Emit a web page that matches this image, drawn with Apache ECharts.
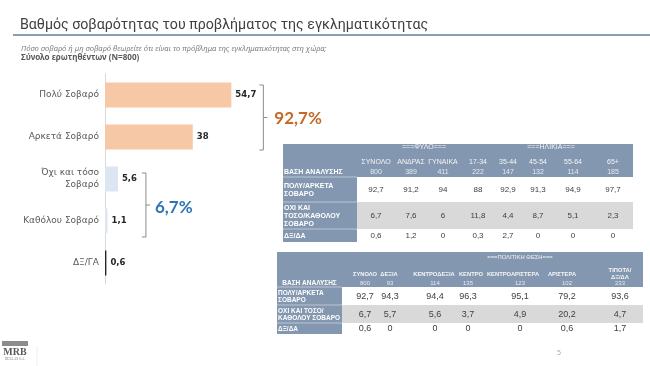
<!DOCTYPE html>
<html>
<head>
<meta charset="utf-8">
<script src="https://cdn.jsdelivr.net/npm/echarts@6/dist/echarts.min.js"></script>
<style>
html,body{margin:0;padding:0;background:#fff;}
#c{width:650px;height:366px;}
</style>
</head>
<body>
<div id="c"></div>
<script>
// ---------- DATA ----------
const titleText = 'Βαθμός σοβαρότητας του προβλήματος της εγκληματικότητας';
const questionText = 'Πόσο σοβαρό ή μη σοβαρό θεωρείτε ότι είναι το πρόβλημα της εγκληματικότητας στη χώρα;';
const baseText = 'Σύνολο ερωτηθέντων (N=800)';

const categories = ['Πολύ Σοβαρό', 'Αρκετά Σοβαρό', 'Όχι και τόσο\nΣοβαρό', 'Καθόλου Σοβαρό', 'ΔΞ/ΓΑ'];
const values = [54.7, 38, 5.6, 1.1, 0.6];
const groupTotals = ['92,7%', '6,7%'];

const t1Groups = ['===ΦΥΛΟ===', '===ΗΛΙΚΙΑ==='];
const t1Columns = ['ΣΥΝΟΛΟ', 'ΑΝΔΡΑΣ', 'ΓΥΝΑΙΚΑ', '17-34', '35-44', '45-54', '55-64', '65+'];
const t1Bases = [800, 389, 411, 222, 147, 132, 114, 185];
const t1RowLabels = ['ΠΟΛΥ/ΑΡΚΕΤΑ\nΣΟΒΑΡΟ', 'ΟΧΙ ΚΑΙ\nΤΟΣΟ/ΚΑΘΟΛΟΥ\nΣΟΒΑΡΟ', 'ΔΞ/ΔΑ'];
const t1Serious = [92.7, 91.2, 94, 88, 92.9, 91.3, 94.9, 97.7];
const t1NotSerious = [6.7, 7.6, 6, 11.8, 4.4, 8.7, 5.1, 2.3];
const t1DkNa = [0.6, 1.2, 0, 0.3, 2.7, 0, 0, 0];

const t2Groups = ['===ΠΟΛΙΤΙΚΗ ΘΕΣΗ==='];
const t2Columns = ['ΣΥΝΟΛΟ', 'ΔΕΞΙΑ', 'ΚΕΝΤΡΟΔΕΞΙΑ', 'ΚΕΝΤΡΟ', 'ΚΕΝΤΡΟΑΡΙΣΤΕΡΑ', 'ΑΡΙΣΤΕΡΑ', 'ΤΙΠΟΤΑ/\nΔΞ/ΔΑ'];
const t2Bases = [800, 93, 114, 135, 123, 102, 233];
const t2RowLabels = ['ΠΟΛΥ/ΑΡΚΕΤΑ\nΣΟΒΑΡΟ', 'ΟΧΙ ΚΑΙ ΤΟΣΟ/\nΚΑΘΟΛΟΥ ΣΟΒΑΡΟ', 'ΔΞ/ΔΑ'];
const t2Serious = [92.7, 94.3, 94.4, 96.3, 95.1, 79.2, 93.6];
const t2NotSerious = [6.7, 5.7, 5.6, 3.7, 4.9, 20.2, 4.7];
const t2DkNa = [0.6, 0, 0, 0, 0, 0.6, 1.7];

// ---------- STYLE / LAYOUT ----------
const fmt = v => String(v).replace('.', ',');
const barColors = ['#F7C8A6', '#F7C8A6', '#DCE6F2', '#DCE6F2', '#262626'];
const HEAD = '#8497B0';
const GRAYROW = '#D9D9D9';
const SANS = '"Liberation Sans", Arial, sans-serif';

const T1L = {x0: 283, x1: 633, lw: 74, top: 144, rows: [177, 202, 229, 242],
  colX: [376, 411, 443, 478, 508, 538, 573, 613], headX: [376, 411, 443, 478, 508, 538, 573, 613],
  groupX: [424, 551], groupY: 147.5, colY: 162, baseY: 172,
  headFont: '7px ' + SANS, colBold: false, baseFont: '7px ' + SANS, valFont: '8px ' + SANS,
  labelFont: 'bold 7px ' + SANS, labelLH: 8, baseLabelCenter: false};
const T2L = {x0: 277, x1: 643, lw: 65, top: 252, rows: [287, 305, 323, 334],
  colX: [365, 390, 435, 468, 520, 567, 620], headX: [365, 389, 434, 471, 513, 562, 620],
  groupX: [520], groupY: 257, colY: 274, baseY: 283.5,
  headFont: '5.8px ' + SANS, colBold: true, baseFont: '6px ' + SANS, valFont: '9px ' + SANS,
  labelFont: 'bold 6.5px ' + SANS, labelLH: 7.5, baseLabelCenter: true};

function buildTable(L, groups, cols, bases, rowLabels, rows) {
  const g = [];
  const z = 10;
  g.push({type: 'rect', z, shape: {x: L.x0, y: L.top, width: L.x1 - L.x0, height: L.rows[0] - L.top}, style: {fill: HEAD}});
  g.push({type: 'rect', z, shape: {x: L.x0, y: L.rows[0], width: L.lw, height: L.rows[3] - L.rows[0]}, style: {fill: HEAD}});
  g.push({type: 'rect', z, shape: {x: L.x0 + L.lw, y: L.rows[1], width: L.x1 - L.x0 - L.lw, height: L.rows[2] - L.rows[1]}, style: {fill: GRAYROW}});
  for (let i = 0; i < 3; i++) {
    g.push({type: 'line', z: z + 1, shape: {x1: L.x0, y1: L.rows[i], x2: L.x0 + L.lw, y2: L.rows[i]}, style: {stroke: 'rgba(255,255,255,0.45)', lineWidth: 1}});
  }
  groups.forEach((t, i) => g.push({type: 'text', z: z + 2, style: {text: t, x: L.groupX[i], y: L.groupY, align: 'center', verticalAlign: 'middle', font: L.headFont, fill: '#F2F2F2'}}));
  cols.forEach((t, i) => g.push({type: 'text', z: z + 2, style: {text: t, x: L.headX[i], y: L.colY, align: 'center', verticalAlign: 'middle', font: (L.colBold ? 'bold ' : '') + L.headFont, fill: '#F5F5F5', lineHeight: 7}}));
  bases.forEach((t, i) => g.push({type: 'text', z: z + 2, style: {text: String(t), x: L.colX[i], y: L.baseY, align: 'center', verticalAlign: 'middle', font: L.baseFont, fill: '#E6EAF0'}}));
  g.push({type: 'text', z: z + 2, style: {text: 'ΒΑΣΗ ΑΝΑΛΥΣΗΣ', x: L.baseLabelCenter ? L.x0 + L.lw / 2 : L.x0 + 1, y: L.baseY, align: L.baseLabelCenter ? 'center' : 'left', verticalAlign: 'middle', font: L.labelFont, fill: '#FFFFFF'}});
  rowLabels.forEach((t, r) => {
    const cy = (L.rows[r] + L.rows[r + 1]) / 2 + 0.5;
    g.push({type: 'text', z: z + 2, style: {text: t, x: L.x0 + 1, y: cy, align: 'left', verticalAlign: 'middle', font: L.labelFont, fill: '#FFFFFF', lineHeight: L.labelLH}});
    rows[r].forEach((v, i) => g.push({type: 'text', z: z + 2, style: {text: fmt(v), x: L.colX[i], y: cy, align: 'center', verticalAlign: 'middle', font: L.valFont, fill: '#404040'}}));
  });
  return g;
}

const chart = echarts.init(document.getElementById('c'), null, {renderer: 'canvas'});
chart.setOption({
  animation: false,
  backgroundColor: '#ffffff',
  grid: {left: 105, width: 138.6, top: 74, height: 210},
  xAxis: {type: 'value', min: 0, max: 60, show: false},
  yAxis: {
    type: 'category', data: categories, inverse: true,
    axisLine: {show: true, lineStyle: {color: '#D9D9D9', width: 1}},
    axisTick: {show: false},
    axisLabel: {fontSize: 9, color: '#595959', fontFamily: '"DejaVu Sans", sans-serif', margin: 6, lineHeight: 12, align: 'right'}
  },
  series: [{
    type: 'bar', barWidth: 25,
    data: values.map((v, i) => ({value: v, itemStyle: {color: barColors[i]}})),
    label: {show: true, position: 'right', distance: 4, formatter: p => fmt(p.value),
      fontSize: 8.5, fontWeight: 'bold', color: '#262626', fontFamily: '"DejaVu Sans", sans-serif'}
  }]
});

// positions of brackets derived from the axes
const px = (v, c) => chart.convertToPixel({gridIndex: 0}, [v, categories[c]]);
const b1x = px(values[0], 0)[0] + 32;
const b1t = px(0, 0)[1] - 10, b1b = px(0, 1)[1] + 13;
const b2x = px(values[2], 2)[0] + 28;
const b2t = px(0, 2)[1] - 6, b2b = px(0, 3)[1] + 16;

function bracket(x, t, b) {
  return {type: 'polyline', z: 5, shape: {points: [[x - 4, t], [x, t], [x, b], [x - 4, b]]}, style: {stroke: '#8C8C8C', lineWidth: 1, fill: null}};
}
function tick(x, t, b) {
  const m = (t + b) / 2;
  return {type: 'line', z: 5, shape: {x1: x, y1: m, x2: x + 4, y2: m}, style: {stroke: '#8C8C8C', lineWidth: 1}};
}

const graphics = [
  {type: 'text', style: {text: titleText, x: 20, y: 25, verticalAlign: 'middle', font: '14.2px Roboto, sans-serif', fill: '#404040'}},
  {type: 'line', shape: {x1: 13, y1: 35, x2: 650, y2: 35}, style: {stroke: '#5F7F9E', lineWidth: 1.5}},
  {type: 'text', style: {text: questionText, x: 21, y: 48.5, verticalAlign: 'middle', font: 'italic 7.6px "Noto Sans", sans-serif', fill: '#7F7F7F'}},
  {type: 'text', style: {text: baseText, x: 21, y: 57.5, verticalAlign: 'middle', font: 'bold 8.1px "Noto Sans", sans-serif', fill: '#595959'}},
  bracket(b1x, b1t, b1b), tick(b1x, b1t, b1b),
  bracket(b2x, b2t, b2b), tick(b2x, b2t, b2b),
  {type: 'text', style: {text: groupTotals[0], x: b1x + 11, y: (b1t + b1b) / 2 + 1, verticalAlign: 'middle', font: 'bold 17px Lato, sans-serif', fill: '#C26A2A'}},
  {type: 'text', style: {text: groupTotals[1], x: b2x + 9, y: (b2t + b2b) / 2 + 3, verticalAlign: 'middle', font: 'bold 17px Lato, sans-serif', fill: '#2E74B5'}},
  // logo
  {type: 'rect', shape: {x: 2, y: 341, width: 26, height: 5}, style: {fill: '#8C8C8C'}},
  {type: 'text', style: {text: 'MRB', x: 15, y: 352, align: 'center', verticalAlign: 'middle', font: 'bold 10px "Liberation Serif", serif', fill: '#595959'}},
  {type: 'text', style: {text: 'HELLAS S.A.', x: 15, y: 359.5, align: 'center', verticalAlign: 'middle', font: '3.5px "Liberation Serif", serif', fill: '#7F7F7F'}},
  {type: 'line', shape: {x1: 37, y1: 346, x2: 37, y2: 366}, style: {stroke: '#EEEEEE', lineWidth: 1}},
  {type: 'text', style: {text: '5', x: 559, y: 353, align: 'center', verticalAlign: 'middle', font: '7px "Noto Sans", sans-serif', fill: '#A6A6A6'}}
].concat(
  buildTable(T1L, t1Groups, t1Columns, t1Bases, t1RowLabels, [t1Serious, t1NotSerious, t1DkNa]),
  buildTable(T2L, t2Groups, t2Columns, t2Bases, t2RowLabels, [t2Serious, t2NotSerious, t2DkNa])
);
chart.setOption({graphic: graphics});
</script>
</body>
</html>
